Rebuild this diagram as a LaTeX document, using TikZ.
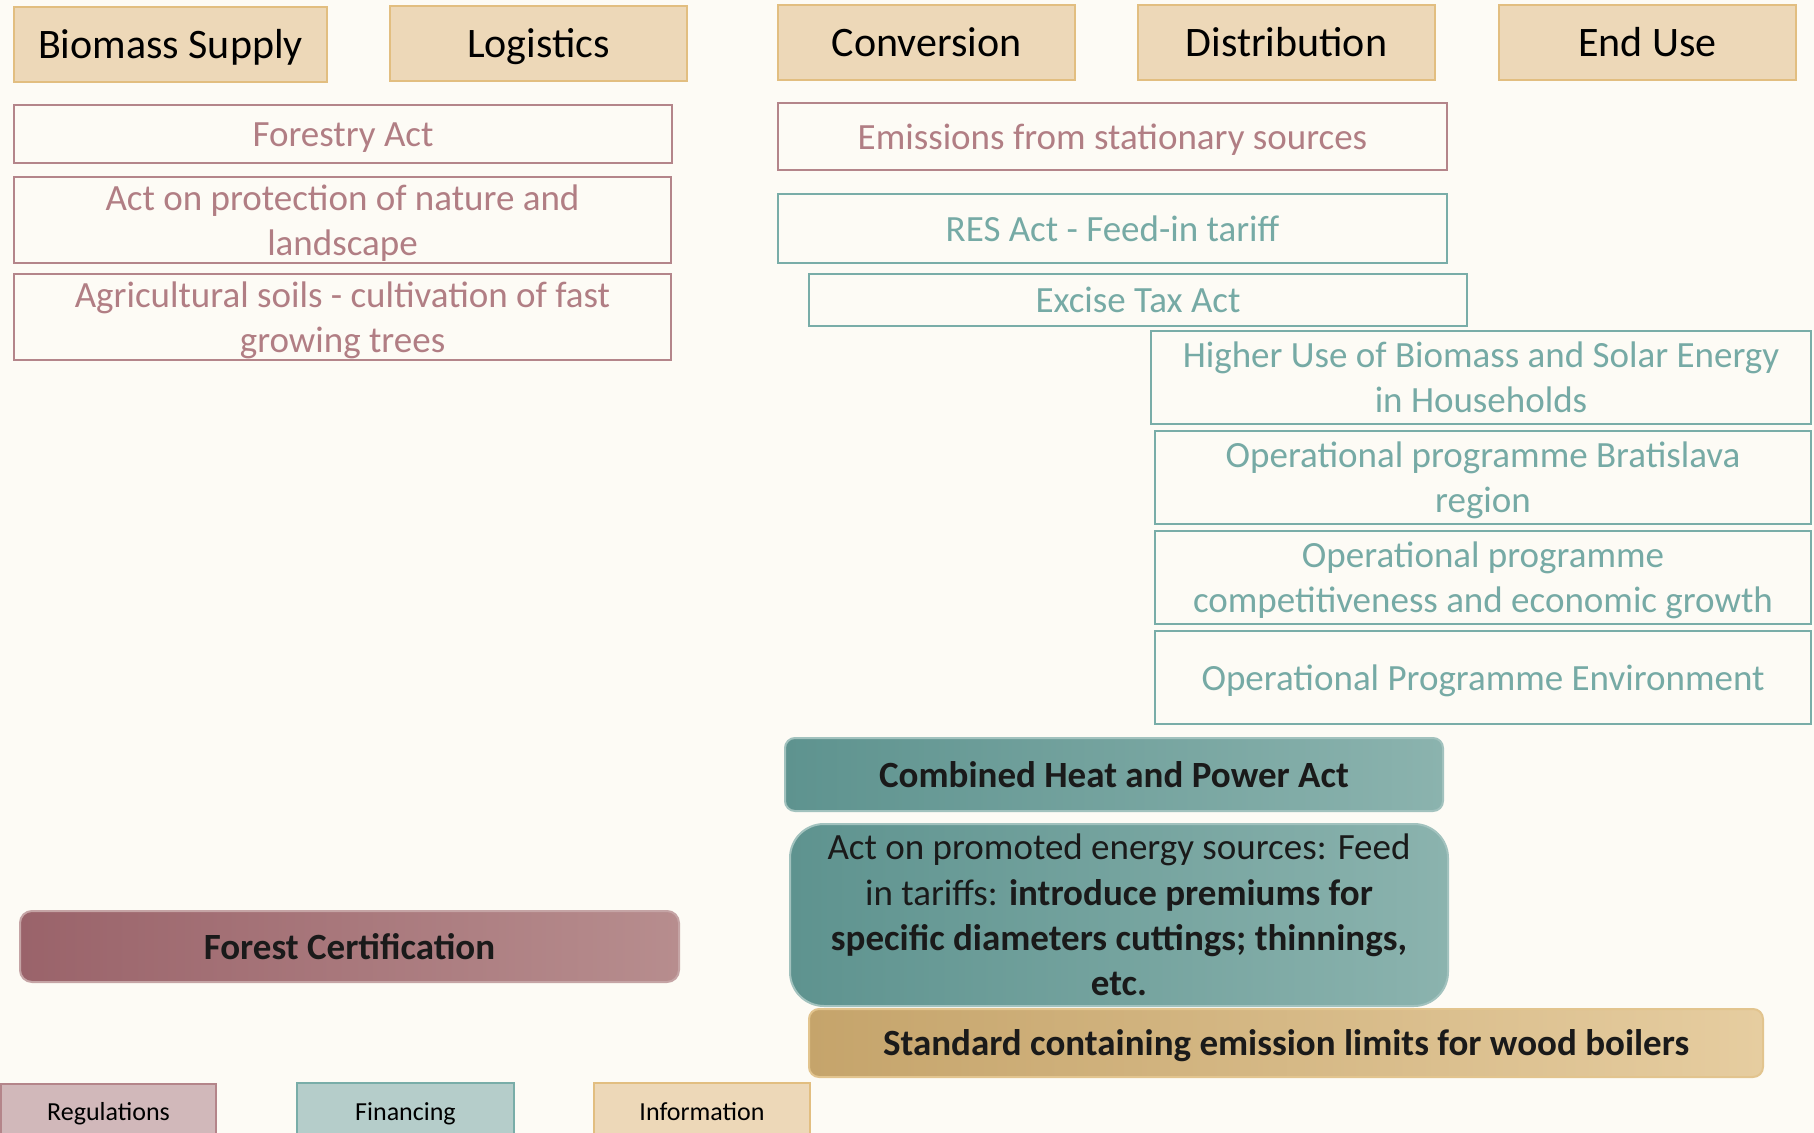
\documentclass[tikz,border=0pt]{standalone}
\usepackage{fontspec}
\setmainfont{Carlito}

\definecolor{pagebg}{HTML}{FDFBF5}
\definecolor{infofill}{HTML}{EDD8B8}
\definecolor{infoline}{HTML}{E2BE80}
\definecolor{regtext}{HTML}{B17E84}
\definecolor{regline}{HTML}{B4858A}
\definecolor{regfill}{HTML}{D1B8BA}
\definecolor{fintext}{HTML}{76AAA5}
\definecolor{finline}{HTML}{79ADA8}
\definecolor{finfill}{HTML}{B5CDCA}
\definecolor{tealdark}{HTML}{5E938F}
\definecolor{teallight}{HTML}{8BB3AE}
\definecolor{rosedark}{HTML}{9A636A}
\definecolor{roselight}{HTML}{B78D8E}
\definecolor{golddark}{HTML}{C5A46B}
\definecolor{goldmid}{HTML}{E2C48E}
\definecolor{goldlight}{HTML}{E6CDA0}
\definecolor{inkdark}{HTML}{1A1A1A}

\tikzset{
  cell/.style={inner xsep=0pt, inner ysep=-6pt, align=center, line width=1pt},
  bodyfont/.style={font=\fontsize{18.5}{22.6}\selectfont},
  header/.style={cell, fill=infofill, draw=infoline,
    font=\fontsize{21}{25.6}\selectfont, text=black},
  regbox/.style={cell, bodyfont, draw=regline, text=regtext},
  finbox/.style={cell, bodyfont, draw=finline, text=fintext},
  tealbar/.style={cell, bodyfont, left color=tealdark, right color=teallight,
    draw=teallight!80!white, text=inkdark},
  rosebar/.style={cell, bodyfont, left color=rosedark, right color=roselight,
    draw=roselight!80!white, text=inkdark, rounded corners=6pt},
  goldbar/.style={cell, bodyfont, left color=golddark, middle color=goldmid,
    right color=goldlight, draw=goldmid, text=inkdark, rounded corners=5pt},
  legend/.style={cell, font=\fontsize{13}{15.9}\selectfont, text=black},
}

% invisible strut giving every text block the font's full line box
\newcommand{\linestrut}{\rule[-0.269em]{0pt}{1.221em}}

% A box node given by its corners (in picture pixels): style, name, x1, y1, x2, y2, text
\newcommand{\cellnode}[7]{%
  \pgfmathsetmacro{\cellw}{(#5-#3)*0.5}%
  \pgfmathsetmacro{\cellh}{(#6-#4)*0.5}%
  \node[#1, minimum width=\cellw pt, minimum height=\cellh pt]
    (#2) at ({(#3+#5)/2},{(#4+#6)/2}) {\linestrut#7\linestrut};}

\begin{document}
\begin{tikzpicture}[x=0.5pt, y=-0.5pt]
  % page
  \fill[pagebg] (0,0) rectangle (1814,1133);
  \useasboundingbox (0,0) rectangle (1814,1133);

  % value-chain headers
  \cellnode{header}{hbio}{14}{7}{327}{82}{Biomass Supply}
  \cellnode{header}{hlog}{390}{6}{687}{81}{Logistics}
  \cellnode{header}{hconv}{778}{5}{1075}{80}{Conversion}
  \cellnode{header}{hdist}{1138}{5}{1435}{80}{Distribution}
  \cellnode{header}{hend}{1499}{5}{1796}{80}{End Use}

  % regulations
  \cellnode{regbox}{forestry}{14}{105}{672}{163}{Forestry Act}
  \cellnode{regbox}{nature}{14}{177}{671}{263}{Act on protection of nature and\\landscape}
  \cellnode{regbox}{soils}{14}{274}{671}{360}{Agricultural soils - cultivation of fast\\growing trees}
  \cellnode{regbox}{emis}{778}{103}{1447}{170}{Emissions from stationary sources}

  % financing
  \cellnode{finbox}{res}{778}{194}{1447}{263}{RES Act - Feed-in tariff}
  \cellnode{finbox}{excise}{809}{274}{1467}{326}{Excise Tax Act}
  \cellnode{finbox}{house}{1151}{331}{1811}{424}{Higher Use of Biomass and Solar Energy\\in Households}
  \cellnode{finbox}{opbrat}{1155}{431}{1811}{524}{Operational programme Bratislava\\region}
  \cellnode{finbox}{opcomp}{1155}{531}{1811}{624}{Operational programme\\competitiveness and economic growth}
  \cellnode{finbox}{openv}{1155}{631}{1811}{724}{Operational Programme Environment}

  % highlighted measures
  \cellnode{tealbar, rounded corners=5pt}{chp}{785}{738}{1443}{811}{\bfseries Combined Heat and Power Act}
  \cellnode{tealbar, rounded corners=17pt}{promo}{790}{824}{1448}{1006}{Act on promoted energy sources: Feed\\
     in tariffs: \textbf{introduce premiums for}\\
     \textbf{specific diameters cuttings; thinnings,}\\
     \textbf{etc.}}
  \cellnode{goldbar}{std}{809}{1009}{1763}{1077}{\bfseries Standard containing emission limits for wood boilers}
  \cellnode{rosebar}{cert}{20}{911}{679}{982}{\bfseries Forest Certification}

  % legend
  \cellnode{legend, fill=regfill, draw=regline}{lreg}{1}{1084}{216}{1140}{Regulations}
  \cellnode{legend, fill=finfill, draw=finline}{lfin}{297}{1083}{514}{1140}{Financing}
  \cellnode{legend, fill=infofill, draw=infoline}{linfo}{594}{1083}{810}{1140}{Information}
\end{tikzpicture}
\end{document}
